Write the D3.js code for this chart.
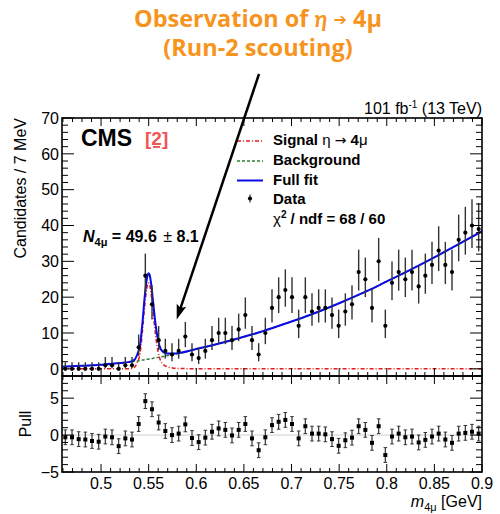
<!DOCTYPE html>
<html><head><meta charset="utf-8">
<script src="https://cdn.jsdelivr.net/npm/d3@7"></script>
<style>
body{margin:0;background:#fff}
text{font-family:"Liberation Sans",Arial,Helvetica,sans-serif;fill:#000}
</style></head>
<body><svg id="c" width="500" height="514"></svg>
<script>
// ---------------- DATA ----------------
const binCenters = [0.4625,0.4695,0.4765,0.4835,0.4905,0.4975,0.5045,0.5115,0.5185,0.5255,
0.5325,0.5395,0.5465,0.5535,0.5605,0.5675,0.5745,0.5815,0.5885,0.5955,
0.6025,0.6095,0.6165,0.6235,0.6305,0.6375,0.6445,0.6515,0.6585,0.6655,
0.6725,0.6795,0.6865,0.6935,0.7005,0.7075,0.7145,0.7215,0.7285,0.7355,
0.7425,0.7495,0.7565,0.7635,0.7705,0.7775,0.7845,0.7915,0.7985,0.8055,
0.8125,0.8195,0.8265,0.8335,0.8405,0.8475,0.8545,0.8615,0.8685,0.8755,
0.8825,0.8895,0.8965];
const counts = [0,0,0,0,0,0,1,1,0,1,1,6,26,18,8,5,4,5,9,4,3,5,8,10,10,8,11,15,8,4,10,17,20,22,20,12,20,16,17,17,15,12,16,18,27,25,17,30,12,24,27,25,27,23,26,29,33,29,27,36,38,40,39];
const errLow = [0,0,0,0,0,0,0.83,0.83,0,0.83,
0.83,2.38,5.07,4.20,2.77,2.16,1.91,2.16,2.94,1.91,
1.63,2.16,2.77,3.11,3.11,2.77,3.26,3.83,2.77,1.91,
3.11,4.08,4.44,4.66,4.44,3.41,4.44,3.96,4.08,4.08,
3.83,3.41,3.96,4.20,5.17,4.97,4.08,5.45,3.41,4.87,
5.17,4.97,5.17,4.77,5.07,5.36,5.72,5.36,5.17,5.97,
6.13,6.29,6.21];
const errHigh = [1.84,1.84,1.84,1.84,1.84,1.84,2.30,2.30,1.84,2.30,
2.30,3.58,6.16,5.30,3.95,3.38,3.16,3.38,4.11,3.16,
2.92,3.38,3.95,4.26,4.26,3.95,4.40,4.93,3.95,3.16,
4.26,5.18,5.53,5.75,5.53,4.54,5.53,5.06,5.18,5.18,
4.93,4.54,5.06,5.30,6.26,6.06,5.18,6.53,4.54,5.96,
6.26,6.06,6.26,5.86,6.16,6.44,6.80,6.44,6.26,7.05,
7.21,7.36,7.29];
const pulls = [-0.3,-0.3,-0.55,-0.6,-0.8,-0.9,-0.2,-0.3,-1.5,-0.45,
-0.6,1.5,4.6,3.5,1.7,0.55,0.0,0.2,1.45,-0.4,
-0.95,-0.35,0.45,0.9,0.7,-0.05,0.7,1.5,-0.45,-2.05,
-0.3,1.35,1.8,2.05,1.5,-0.45,1.2,0.2,0.2,0.1,
-0.55,-1.45,-0.7,-0.35,1.2,0.7,-1.05,1.2,-2.7,-0.2,
0.2,-0.3,-0.2,-1.0,-0.65,-0.2,0.2,-0.6,-1.05,0.2,
0.3,0.45,0.2];
const fitMass = [0.459,0.48,0.50,0.52,0.530,0.535,0.538,0.541,0.5435,0.546,0.548,0.5496,0.551,0.553,0.555,0.5575,0.560,0.5625,0.565,0.569,0.575,0.585,0.60,0.62,0.64,0.66,0.68,0.70,0.72,0.75,0.78,0.80,0.82,0.85,0.875,0.90];
const bgFit = [0.6,0.85,1.15,1.6,1.9,2.1,2.2,2.35,2.45,2.55,2.65,2.7,2.8,2.85,2.95,3.05,3.2,3.3,3.45,3.65,4.0,4.5,5.5,6.8,8.2,9.7,11.4,13.2,15.1,18.3,21.8,24.4,27.0,31.1,34.7,38.4];
const sigFit = [0,0,0,0,0.05,0.4,1.8,4.4,10.5,18.0,22.3,24.0,23.4,20.0,14.8,8.8,4.6,2.3,1.3,0.6,0.25,0.08,0.02,0,0,0,0,0,0,0,0,0,0,0,0,0];
const fullFit = [0.6,0.85,1.15,1.6,1.95,2.5,4.0,6.75,12.95,20.55,24.95,26.7,26.2,22.85,17.75,11.85,7.8,5.6,4.75,4.25,4.25,4.58,5.52,6.8,8.2,9.7,11.4,13.2,15.1,18.3,21.8,24.4,27.0,31.1,34.7,38.4];
const xTicks = [0.5,0.55,0.6,0.65,0.7,0.75,0.8,0.85,0.9];
const xTickLabels = ["0.5","0.55","0.6","0.65","0.7","0.75","0.8","0.85","0.9"];
const yTicks = [0,10,20,30,40,50,60,70];
const pullTicks = [-5,0,5];
const pullTickLabels = ["\u22125","0","5"];

// ---------------- LAYOUT ----------------
const L=62,R=482,T=118,M=376,B=472;
const svg = d3.select("#c");
const x = d3.scaleLinear().domain([0.459,0.9]).range([L,R]);
const y = d3.scaleLinear().domain([-2,70]).range([M,T]);
const yp = d3.scaleLinear().domain([-5,8]).range([B,M]);

svg.append("defs").append("clipPath").attr("id","cm").append("rect")
  .attr("x",L).attr("y",T).attr("width",R-L).attr("height",M-T);
svg.append("defs").append("clipPath").attr("id","cp").append("rect")
  .attr("x",L).attr("y",M).attr("width",R-L).attr("height",B-M);

// Title
const tStyle = s=>s.style("font-family","'Open Sans', Lato, sans-serif").style("font-weight","bold").style("font-size","23.5px").style("fill","#F7941D");
tStyle(svg.append("text").attr("x",258).attr("y",27).attr("text-anchor","middle"))
  .html('Observation of <tspan font-style="italic" font-family="Lato">η</tspan> <tspan font-size="16px" dy="-2" font-family="DejaVu Sans">➔</tspan><tspan dy="2"> 4μ</tspan>');
tStyle(svg.append("text").attr("x",258).attr("y",56).attr("text-anchor","middle")).text("(Run-2 scouting)");

function range(a,b,s){const r=[];for(let v=a;v<=b+1e-9;v+=s)r.push(+v.toFixed(6));return r;}

// ---- Main panel ----
const gm = svg.append("g");
const line = d3.line().x((d,i)=>x(fitMass[i])).y(d=>y(d)).curve(d3.curveMonotoneX);
const curves = gm.append("g").attr("clip-path","url(#cm)");
curves.append("path").attr("d",line(bgFit)).attr("fill","none").attr("stroke","#2e7d32").attr("stroke-width",1.5).attr("stroke-dasharray","3,2");
curves.append("path").attr("d",line(sigFit)).attr("fill","none").attr("stroke","#e41a1c").attr("stroke-width",1.5).attr("stroke-dasharray","4,2,1,2");
curves.append("path").attr("d",line(fullFit)).attr("fill","none").attr("stroke","#0a0ae6").attr("stroke-width",2);

// data
const dg = gm.append("g").attr("clip-path","url(#cm)");
binCenters.forEach((m,i)=>{
  dg.append("line").attr("x1",x(m)).attr("x2",x(m))
    .attr("y1",y(counts[i]-errLow[i])).attr("y2",y(counts[i]+errHigh[i]))
    .attr("stroke","#333").attr("stroke-width",1.4);
  dg.append("circle").attr("cx",x(m)).attr("cy",y(counts[i])).attr("r",2.1).attr("fill","#000");
});

// ---- Pull panel ----
const gp = svg.append("g");
gp.append("line").attr("x1",L).attr("x2",R).attr("y1",yp(0)).attr("y2",yp(0)).attr("stroke","#cfcfcf").attr("stroke-width",1);
const pg = gp.append("g").attr("clip-path","url(#cp)");
binCenters.forEach((m,i)=>{
  const cx=x(m), y1=yp(pulls[i]-1), y2=yp(pulls[i]+1);
  pg.append("line").attr("x1",cx).attr("x2",cx).attr("y1",y1).attr("y2",y2).attr("stroke","#333").attr("stroke-width",1.2);
  pg.append("line").attr("x1",cx-1.8).attr("x2",cx+1.8).attr("y1",y1).attr("y2",y1).attr("stroke","#333").attr("stroke-width",1);
  pg.append("line").attr("x1",cx-1.8).attr("x2",cx+1.8).attr("y1",y2).attr("y2",y2).attr("stroke","#333").attr("stroke-width",1);
  pg.append("rect").attr("x",cx-2).attr("y",yp(pulls[i])-2).attr("width",4).attr("height",4).attr("fill","#000");
});

// ---- Frames and ticks ----
const axes = svg.append("g").attr("stroke","#000");
function tick(x1,y1,x2,y2,w){axes.append("line").attr("x1",x1).attr("y1",y1).attr("x2",x2).attr("y2",y2).attr("stroke-width",w||1);}
const xMinor = range(0.46,0.9,0.01);
xMinor.forEach(v=>{
  const major = xTicks.some(t=>Math.abs(t-v)<1e-6);
  const len = major?8:4;
  const px = x(v);
  tick(px,T,px,T+len); tick(px,M,px,M-len); tick(px,M,px,M+len); tick(px,B,px,B-len);
});
range(-2,70,2).forEach(v=>{
  const major = yTicks.includes(v);
  const len = major?12:6; const py=y(v);
  tick(L,py,L+len,py); tick(R,py,R-len,py);
});
range(-5,8,1).forEach(v=>{
  const major = pullTicks.includes(v);
  const len = major?12:6; const py=yp(v);
  tick(L,py,L+len,py); tick(R,py,R-len,py);
});
svg.append("rect").attr("x",L).attr("y",T).attr("width",R-L).attr("height",M-T).attr("fill","none").attr("stroke","#000").attr("stroke-width",1.6);
svg.append("rect").attr("x",L).attr("y",M).attr("width",R-L).attr("height",B-M).attr("fill","none").attr("stroke","#000").attr("stroke-width",1.6);

// labels
yTicks.forEach(v=>svg.append("text").attr("x",59).attr("y",y(v)).attr("dy","0.36em").attr("text-anchor","end").style("font-size","16px").text(v));
pullTicks.forEach((v,i)=>svg.append("text").attr("x",59).attr("y",yp(v)).attr("dy","0.36em").attr("text-anchor","end").style("font-size","16px").text(pullTickLabels[i]));
xTicks.forEach((v,i)=>svg.append("text").attr("x",x(v)).attr("y",489).attr("text-anchor","middle").style("font-size","16px").text(xTickLabels[i]));

svg.append("text").attr("transform","translate(26,118) rotate(-90)").attr("text-anchor","end").style("font-size","16px").text("Candidates / 7 MeV");
svg.append("text").attr("transform","translate(31,424) rotate(-90)").attr("text-anchor","middle").style("font-size","16px").text("Pull");
svg.append("text").attr("x",482).attr("y",507).attr("text-anchor","end").style("font-size","16px")
  .html('<tspan font-style="italic">m</tspan><tspan font-size="11px" dy="4">4μ</tspan><tspan dy="-4"> [GeV]</tspan>');

svg.append("text").attr("x",482).attr("y",114).attr("text-anchor","end").style("font-size","16px")
  .html('101 fb<tspan font-size="10px" dy="-6">-1</tspan><tspan dy="6"> (13 TeV)</tspan>');

svg.append("text").attr("x",81).attr("y",146).style("font-size","23px").style("font-weight","bold").text("CMS");
svg.append("text").attr("x",145).attr("y",145).style("font-size","19px").style("font-weight","bold").style("fill","#f05555").style("text-decoration","underline").text("[2]");

svg.append("text").attr("x",83).attr("y",242).style("font-size","16px").style("font-weight","bold")
  .html('<tspan font-style="italic">N</tspan><tspan font-size="11px" dy="4">4μ</tspan><tspan dy="-4"> = 49.6 </tspan><tspan font-weight="normal" dx="2">±</tspan><tspan> 8.1</tspan>');

// legend
const lg = svg.append("g");
const rows=[145,165,184.5,203.5,223.5];
lg.append("line").attr("x1",237).attr("x2",263).attr("y1",rows[0]-4).attr("y2",rows[0]-4).attr("stroke","#e41a1c").attr("stroke-width",1.5).attr("stroke-dasharray","4,2,1,2");
lg.append("line").attr("x1",237).attr("x2",263).attr("y1",rows[1]-4).attr("y2",rows[1]-4).attr("stroke","#2e7d32").attr("stroke-width",1.5).attr("stroke-dasharray","3,2");
lg.append("line").attr("x1",237).attr("x2",263).attr("y1",rows[2]-4).attr("y2",rows[2]-4).attr("stroke","#0a0ae6").attr("stroke-width",2);
lg.append("line").attr("x1",250).attr("x2",250).attr("y1",rows[3]-9).attr("y2",rows[3]-1).attr("stroke","#333").attr("stroke-width",1.2);
lg.append("circle").attr("cx",250).attr("cy",rows[3]-5).attr("r",2.1).attr("fill","#000");
const lt=(i,h)=>lg.append("text").attr("x",273).attr("y",rows[i]).style("font-size","15px").style("font-weight","bold").html(h);
lt(0,'Signal <tspan font-weight="normal">η </tspan><tspan font-weight="normal" font-family="DejaVu Sans" font-size="14px">→</tspan> 4<tspan font-weight="normal">μ</tspan>');
lt(1,'Background');
lt(2,'Full fit');
lt(3,'Data');
lt(4,'<tspan font-weight="normal">χ</tspan><tspan font-size="10px" dy="-6">2</tspan><tspan dy="6"> / ndf = 68 / 60</tspan>');

// annotation arrow
const ax1=259, ay1=74, ax2=176.7, ay2=319.5;
const dx=ax2-ax1, dy=ay2-ay1, len=Math.hypot(dx,dy), ux=dx/len, uy=dy/len;
const bx=ax2-15*ux, by=ay2-15*uy;
svg.append("line").attr("x1",ax1).attr("y1",ay1).attr("x2",bx+3*ux).attr("y2",by+3*uy).attr("stroke","#000").attr("stroke-width",2.5);
svg.append("path").attr("d",`M${ax2},${ay2}L${bx-5*uy},${by+5*ux}L${bx+3*ux},${by+3*uy}L${bx+5*uy},${by-5*ux}Z`).attr("fill","#000");
</script></body></html>
